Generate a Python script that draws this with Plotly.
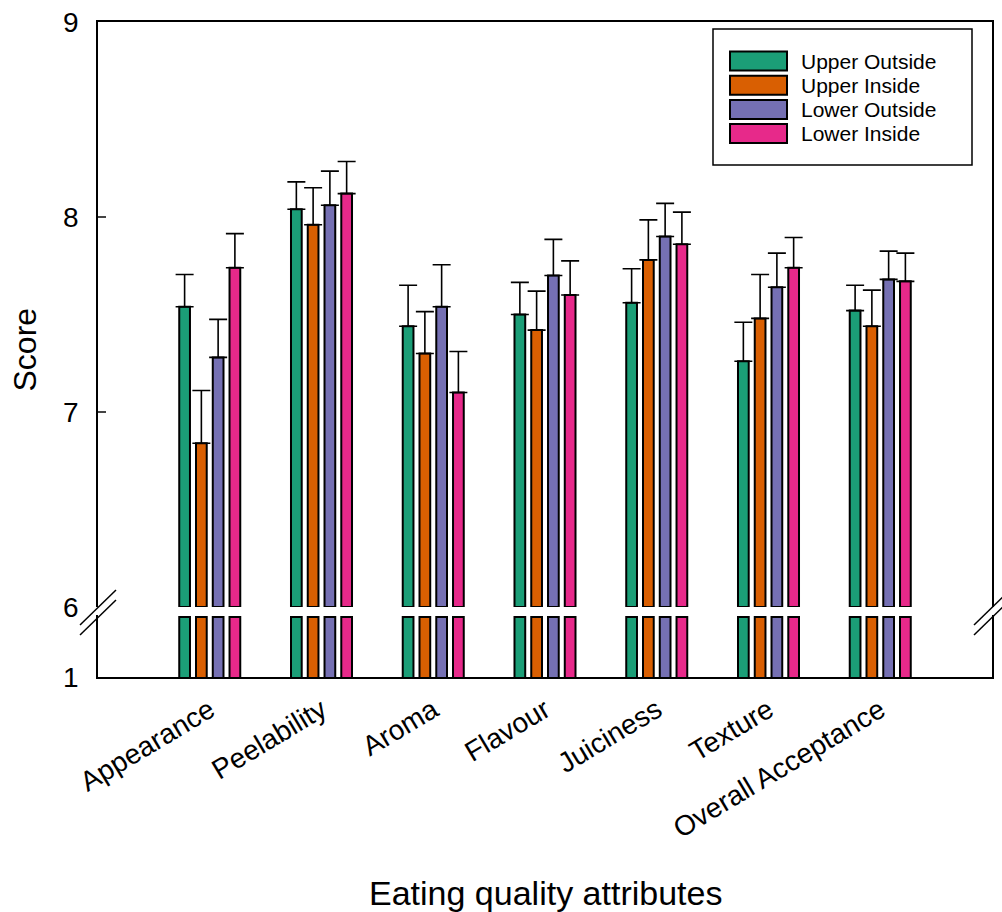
import numpy as np
import plotly.graph_objects as go

# Eating quality scores (mean and error) per fruit position
attributes = ["Appearance", "Peelability", "Aroma", "Flavour",
              "Juiciness", "Texture", "Overall Acceptance"]
series = ["Upper Outside", "Upper Inside", "Lower Outside", "Lower Inside"]
colors = ["#1b9e77", "#d95f02", "#7570b3", "#e7298a"]

upper_outside = [7.54, 8.04, 7.44, 7.50, 7.56, 7.26, 7.52]
upper_outside_err = [0.165, 0.14, 0.21, 0.165, 0.175, 0.20, 0.13]
upper_inside = [6.84, 7.96, 7.30, 7.42, 7.78, 7.48, 7.44]
upper_inside_err = [0.27, 0.19, 0.215, 0.20, 0.205, 0.225, 0.185]
lower_outside = [7.28, 8.06, 7.54, 7.70, 7.90, 7.64, 7.68]
lower_outside_err = [0.195, 0.175, 0.215, 0.185, 0.17, 0.175, 0.145]
lower_inside = [7.74, 8.12, 7.10, 7.60, 7.86, 7.74, 7.67]
lower_inside_err = [0.175, 0.165, 0.21, 0.175, 0.165, 0.155, 0.145]

values = [upper_outside, upper_inside, lower_outside, lower_inside]
errors = [upper_outside_err, upper_inside_err, lower_outside_err, lower_inside_err]

# broken y axis: a short stub starting at 1, then 6..9
LOW_MIN, LOW_TOP = 1.0, 1.5
HIGH_MIN, HIGH_MAX = 6.0, 9.0

FONT = "Liberation Sans, Arial, sans-serif"
W, H = 1002, 912
L, R, T, B = 98, 10, 22, 235
PW, PH = W - L - R, H - T - B


def fx(px):
    return (px - L) / PW


def fy(py):
    return (H - B - py) / PH


fig = go.Figure()

for name, col, vals, errs in zip(series, colors, values, errors):
    v = np.array(vals)
    # lower stub of each bar
    fig.add_trace(go.Bar(
        x=attributes, y=np.minimum(v, LOW_TOP), name=name,
        marker=dict(color=col, line=dict(color="black", width=2)),
        xaxis="x", yaxis="y", showlegend=False, hoverinfo="skip",
    ))
    # main part of each bar above the break
    fig.add_trace(go.Bar(
        x=attributes, y=v - HIGH_MIN, base=HIGH_MIN, name=name,
        marker=dict(color=col, line=dict(color="black", width=2)),
        error_y=dict(type="data", array=errs, symmetric=False,
                     arrayminus=[0] * len(errs), color="black",
                     thickness=1.6, width=9),
        xaxis="x2", yaxis="y2", showlegend=False,
        customdata=v, hovertemplate="%{x}: %{customdata:.2f}<extra>" + name + "</extra>",
    ))

axis_common = dict(showgrid=False, zeroline=False, showline=True,
                   linecolor="black", linewidth=1.6)

fig.update_layout(
    width=W, height=H,
    margin=dict(l=L, r=R, t=T, b=B, autoexpand=False),
    paper_bgcolor="white", plot_bgcolor="white",
    font=dict(family=FONT, color="black"),
    barmode="group", bargap=0.4, bargroupgap=0.36,
    xaxis=dict(**axis_common, type="category", range=[-1, 7],
               anchor="y", ticks="", tickangle=-31,
               tickfont=dict(size=28), ticklabelstandoff=4),
    xaxis2=dict(**axis_common, type="category", range=[-1, 7],
                matches="x", anchor="y2", side="top", ticks="",
                showticklabels=False),
    yaxis=dict(**axis_common, domain=[0, fy(614.6)], range=[LOW_MIN, LOW_MIN + 0.52],
               anchor="x", mirror=True, tickvals=[1], ticks="inside",
               ticklen=8, tickwidth=1.5, tickfont=dict(size=28),
               ticklabelstandoff=12),
    yaxis2=dict(**axis_common, domain=[fy(607), 1], range=[HIGH_MIN, HIGH_MAX],
                anchor="x2", mirror=True, tickvals=[6, 7, 8, 9], ticks="inside",
                ticklen=8, tickwidth=1.5, tickfont=dict(size=28),
                ticklabelstandoff=12),
)

shapes = []
# axis break marks on both sides
for xc in (L, L + PW):
    for dy in (0, 10):
        shapes.append(dict(type="line", xref="paper", yref="paper",
                           x0=fx(xc - 18), y0=fy(625 + dy),
                           x1=fx(xc + 18), y1=fy(590 + dy),
                           line=dict(color="black", width=1.5)))

# legend box with swatches
shapes.append(dict(type="rect", xref="paper", yref="paper",
                   x0=fx(713), x1=fx(972), y0=fy(165), y1=fy(29),
                   line=dict(color="black", width=1.5), fillcolor="white",
                   layer="above"))
annotations = []
row_y = [61, 85.2, 109.4, 133.6]
for name, col, yc in zip(series, colors, row_y):
    shapes.append(dict(type="rect", xref="paper", yref="paper",
                       x0=fx(730), x1=fx(787), y0=fy(yc + 9.5), y1=fy(yc - 9.5),
                       line=dict(color="black", width=2), fillcolor=col,
                       layer="above"))
    annotations.append(dict(xref="paper", yref="paper", x=fx(800), y=fy(yc),
                            text=name, showarrow=False, xanchor="left",
                            yanchor="middle", borderpad=0,
                            font=dict(size=21)))

# axis titles
annotations.append(dict(xref="paper", yref="paper", x=0.5, y=fy(893),
                        text="Eating quality attributes", showarrow=False,
                        xanchor="center", yanchor="middle", font=dict(size=34)))
annotations.append(dict(xref="paper", yref="paper", x=fx(24), y=0.5,
                        text="Score", showarrow=False, textangle=-90,
                        xanchor="center", yanchor="middle", font=dict(size=32)))

fig.update_layout(shapes=shapes, annotations=annotations)

fig.write_html("out.html")
